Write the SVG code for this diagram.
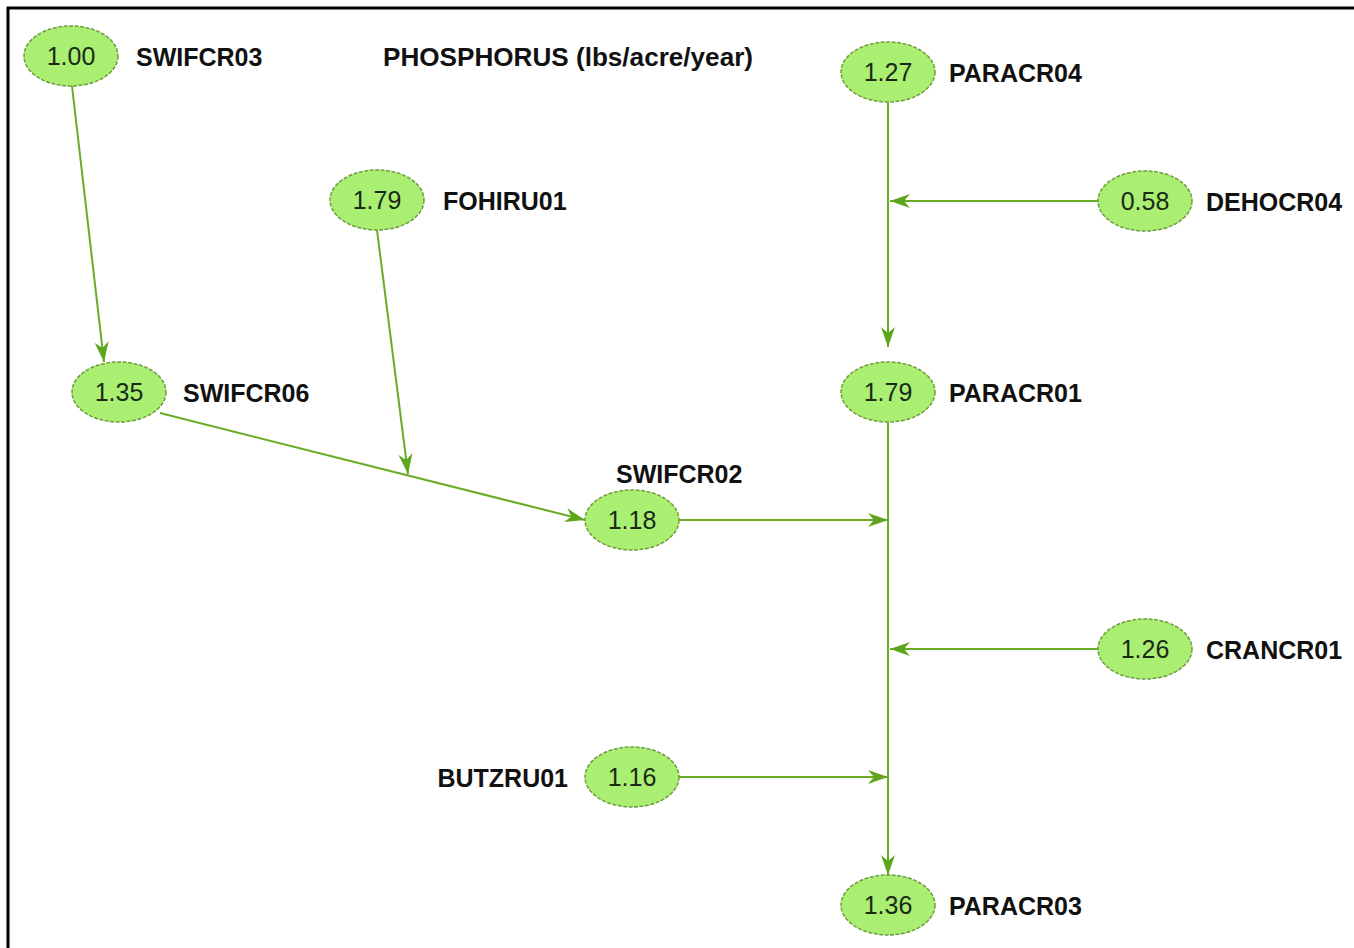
<svg xmlns="http://www.w3.org/2000/svg" width="1354" height="948" viewBox="0 0 1354 948">
<defs>
<style>
.node ellipse{fill:#aaee72;stroke:#6f9e3c;stroke-width:1.5;stroke-dasharray:4 1.5}
.num{font-family:"Liberation Sans",Arial,sans-serif;font-size:25px;fill:#1a2a16;text-anchor:middle}
.lbl{font-family:"Liberation Sans",Arial,sans-serif;font-size:25px;font-weight:bold;fill:#111}
.edge{stroke:#6aab26;stroke-width:2;fill:none;marker-end:url(#arr)}
</style>
<marker id="arr" markerUnits="userSpaceOnUse" markerWidth="26" markerHeight="18" viewBox="-22 -9 24 18" refX="0" refY="0" orient="auto">
<path d="M0,0 L-20,-7 L-14,0 L-20,7 Z" fill="#5ea51c"/>
</marker>
</defs>
<rect x="0" y="0" width="1354" height="948" fill="#fff"/>
<path d="M8,948 V8 H1354" fill="none" stroke="#000" stroke-width="3"/>
<text class="lbl" x="383" y="66" textLength="370" lengthAdjust="spacingAndGlyphs">PHOSPHORUS (lbs/acre/year)</text>
<g id="connectors">
<line class="edge" x1="72" y1="86" x2="104" y2="362"/>
<line class="edge" x1="377" y1="230" x2="408" y2="474"/>
<line class="edge" x1="160" y1="413" x2="585" y2="520"/>
<line class="edge" x1="679" y1="520" x2="888" y2="520"/>
<line class="edge" x1="888" y1="102" x2="888" y2="347"/>
<line class="edge" x1="1098" y1="201" x2="890" y2="201"/>
<line class="edge" x1="888" y1="422" x2="888" y2="875"/>
<line class="edge" x1="1098" y1="649" x2="890" y2="649"/>
<line class="edge" x1="679" y1="777" x2="888" y2="777"/>
</g>
<g id="SWIFCR03" class="node"><ellipse cx="71" cy="56" rx="47" ry="30"/><text class="num" x="71" y="65">1.00</text><text class="lbl" x="136" y="66">SWIFCR03</text></g>
<g id="FOHIRU01" class="node"><ellipse cx="377" cy="200" rx="47" ry="30"/><text class="num" x="377" y="209">1.79</text><text class="lbl" x="443" y="210">FOHIRU01</text></g>
<g id="PARACR04" class="node"><ellipse cx="888" cy="72" rx="47" ry="30"/><text class="num" x="888" y="81">1.27</text><text class="lbl" x="949" y="82">PARACR04</text></g>
<g id="DEHOCR04" class="node"><ellipse cx="1145" cy="201" rx="47" ry="30"/><text class="num" x="1145" y="210">0.58</text><text class="lbl" x="1206" y="211">DEHOCR04</text></g>
<g id="SWIFCR06" class="node"><ellipse cx="119" cy="392" rx="47" ry="30"/><text class="num" x="119" y="401">1.35</text><text class="lbl" x="183" y="402">SWIFCR06</text></g>
<g id="PARACR01" class="node"><ellipse cx="888" cy="392" rx="47" ry="30"/><text class="num" x="888" y="401">1.79</text><text class="lbl" x="949" y="402">PARACR01</text></g>
<g id="SWIFCR02" class="node"><ellipse cx="632" cy="520" rx="47" ry="30"/><text class="num" x="632" y="529">1.18</text><text class="lbl" x="616" y="483">SWIFCR02</text></g>
<g id="CRANCR01" class="node"><ellipse cx="1145" cy="649" rx="47" ry="30"/><text class="num" x="1145" y="658">1.26</text><text class="lbl" x="1206" y="659">CRANCR01</text></g>
<g id="BUTZRU01" class="node"><ellipse cx="632" cy="777" rx="47" ry="30"/><text class="num" x="632" y="786">1.16</text><text class="lbl" x="568" y="787" text-anchor="end">BUTZRU01</text></g>
<g id="PARACR03" class="node"><ellipse cx="888" cy="905" rx="47" ry="30"/><text class="num" x="888" y="914">1.36</text><text class="lbl" x="949" y="915">PARACR03</text></g>
</svg>
